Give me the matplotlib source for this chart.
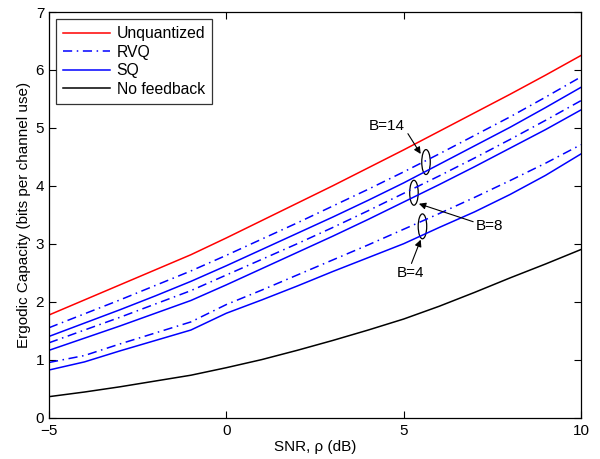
import matplotlib
matplotlib.use("Agg")
import matplotlib.pyplot as plt
from matplotlib.patches import Ellipse

plt.rcParams['font.family'] = ['Liberation Sans', 'DejaVu Sans']

snr = list(range(-5, 11))
unquantized = [1.77, 2.03, 2.29, 2.55, 2.81, 3.10, 3.40, 3.70, 4.00, 4.31, 4.62, 4.94, 5.26, 5.58, 5.91, 6.25]
rvq14 = [1.55, 1.79, 2.03, 2.28, 2.53, 2.80, 3.08, 3.36, 3.65, 3.94, 4.24, 4.55, 4.87, 5.19, 5.53, 5.88]
sq14 = [1.40, 1.63, 1.86, 2.10, 2.35, 2.62, 2.90, 3.18, 3.46, 3.75, 4.05, 4.37, 4.69, 5.01, 5.35, 5.70]
rvq8 = [1.29, 1.51, 1.73, 1.96, 2.19, 2.46, 2.73, 3.00, 3.28, 3.57, 3.87, 4.17, 4.48, 4.80, 5.13, 5.47]
sq8 = [1.16, 1.37, 1.58, 1.80, 2.02, 2.29, 2.57, 2.85, 3.13, 3.42, 3.72, 4.02, 4.33, 4.65, 4.97, 5.31]
rvq4 = [0.95, 1.07, 1.27, 1.46, 1.65, 1.95, 2.20, 2.46, 2.72, 2.98, 3.25, 3.52, 3.80, 4.09, 4.39, 4.71]
sq4 = [0.82, 0.96, 1.15, 1.33, 1.51, 1.80, 2.03, 2.27, 2.52, 2.76, 3.00, 3.28, 3.55, 3.85, 4.18, 4.55]
nofb = [0.36, 0.44, 0.53, 0.63, 0.73, 0.86, 1.00, 1.16, 1.33, 1.51, 1.70, 1.92, 2.16, 2.41, 2.65, 2.90]

fig = plt.figure(figsize=(6.0, 4.59), dpi=100)
ax = fig.add_axes([0.0817, 0.0904, 0.8866, 0.8834])

lw = 1.1
dd = [6, 3, 1, 3]
ax.plot(snr, unquantized, color='#ff0000', lw=lw, label='Unquantized')
ax.plot(snr, rvq14, color='#0000ff', lw=lw, dashes=dd, label='RVQ')
ax.plot(snr, sq14, color='#0000ff', lw=lw, label='SQ')
ax.plot(snr, nofb, color='black', lw=lw, label='No feedback')
ax.plot(snr, rvq8, color='#0000ff', lw=lw, dashes=dd)
ax.plot(snr, sq8, color='#0000ff', lw=lw)
ax.plot(snr, rvq4, color='#0000ff', lw=lw, dashes=dd)
ax.plot(snr, sq4, color='#0000ff', lw=lw)

for (cx, cy) in [(5.63, 4.41), (5.29, 3.88), (5.53, 3.30)]:
    ax.add_patch(Ellipse((cx, cy), 0.24, 0.43, fill=False, ec='black', lw=0.9))

fs = 11
ap = dict(arrowstyle='-|>', color='black', lw=0.8, mutation_scale=10, shrinkA=0, shrinkB=0)
ax.annotate('', xy=(5.48, 4.55), xytext=(5.12, 4.90), arrowprops=ap)
ax.text(4.52, 5.04, 'B=14', ha='center', va='center', fontsize=fs)
ax.annotate('', xy=(5.43, 3.69), xytext=(6.96, 3.38), arrowprops=ap)
ax.text(7.41, 3.31, 'B=8', ha='center', va='center', fontsize=fs)
ax.annotate('', xy=(5.48, 3.07), xytext=(5.22, 2.66), arrowprops=ap)
ax.text(5.18, 2.49, 'B=4', ha='center', va='center', fontsize=fs)

ax.set_xlim(-5, 10)
ax.set_ylim(0, 7)
ax.set_xticks([-5, 0, 5, 10])
ax.set_yticks(range(0, 8))
ax.tick_params(direction='in', top=True, right=True, labelsize=fs, length=5, width=0.8)
ax.tick_params(axis='x', pad=5)
for s in ax.spines.values():
    s.set_linewidth(0.9)
ax.set_xlabel('SNR, ρ (dB)', fontsize=fs, labelpad=1)
ax.set_ylabel('Ergodic Capacity (bits per channel use)', fontsize=fs, labelpad=3)

leg = ax.legend(loc='upper left', fontsize=11.3, frameon=True, fancybox=False, edgecolor='black',
                borderpad=0.45, labelspacing=0.22, handlelength=3.0, handletextpad=0.4,
                borderaxespad=0.45)
leg.get_frame().set_linewidth(0.9)

fig.savefig('out.png', dpi=100)
